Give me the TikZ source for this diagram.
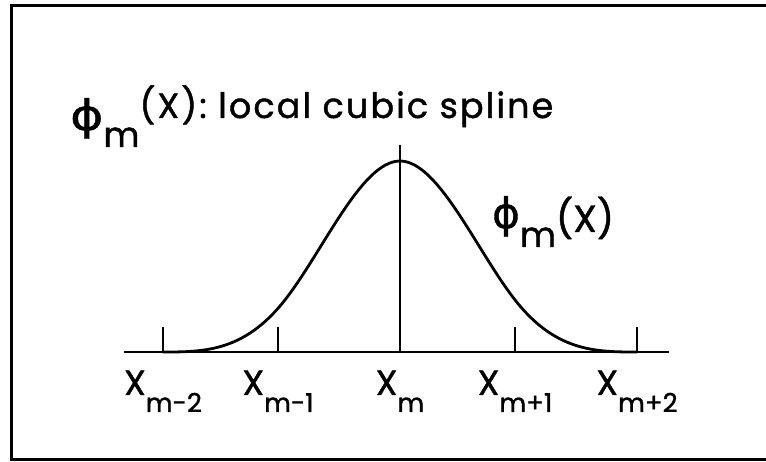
\documentclass[tikz,border=0pt]{standalone}
\usepackage{fontspec}
\setmainfont{Poppins}[FakeBold=1.2]
\newfontfamily\titlefont{Poppins}[LetterSpace=6, FakeBold=1.2]
\newfontfamily\grkfont{DejaVu Sans}[FakeBold=1]
\usetikzlibrary{positioning}

\newcommand{\phisym}[1]{{\grkfont\fontsize{42}{44}\selectfont\scalebox{#1}[1]{ϕ}}}
\newcommand{\subx}[1]{\raisebox{-17pt}{\fontsize{26}{28}\selectfont #1}}

\begin{document}
\begin{tikzpicture}[x=1pt, y=-1pt,
    frame/.style={line width=3pt},
    curve/.style={line width=2.8pt, line join=round},
    axis/.style={line width=2.8pt},
    tick/.style={line width=2.2pt},
    txt/.style={font=\fontsize{35}{38}\selectfont, inner sep=0pt},
    xlbl/.style={txt, anchor=base}
  ]
  \useasboundingbox (0,0) rectangle (766,462);

  % ---- frame ----
  \draw[frame] (766,6) -- (11,6) -- (11,459) -- (766,459);

  % ---- axis and knots ----
  \coordinate (axl) at (124,352);
  \coordinate (axr) at (669,352);
  \draw[axis] (axl) -- (axr);
  \foreach \xp/\nm/\sb in {163/m2/{m-2}, 278/m1/{m-1}, 400/m0/{m}, 515/p1/{m+1}, 637/p2/{m+2}} {
    \coordinate (k\nm) at (\xp,352);
    \node[xlbl] (x\nm) at (\xp,395) {X\subx{\sb}};
  }
  \foreach \nm in {m2, m1, p1, p2}
    \draw[tick] (k\nm) -- ++(0,-25);
  \coordinate (top) at (400,145);
  \draw[tick] (km0) -- (top);

  % ---- spline ----
  \draw[curve] (km2) .. controls (202.5,352) and (242,352) .. (281.5,304.25)
    .. controls (321,256.5) and (360.5,161) .. (400,161)
    .. controls (439.5,161) and (479,256.5) .. (518.5,304.25)
    .. controls (558,352) and (597.5,352) .. (kp2);

  % ---- labels ----
  \node[txt, anchor=base west] (title) at (70,118)
    {\raisebox{-12pt}{\phisym{1.2}}\raisebox{-29pt}{m}{\titlefont(X): local cubic spline}};
  \node[txt, anchor=base west] (phiright) at (492,232)
    {\raisebox{4pt}{\phisym{1}}\raisebox{-15pt}{m}{\fontsize{38}{40}\selectfont(X)}};
\end{tikzpicture}
\end{document}
